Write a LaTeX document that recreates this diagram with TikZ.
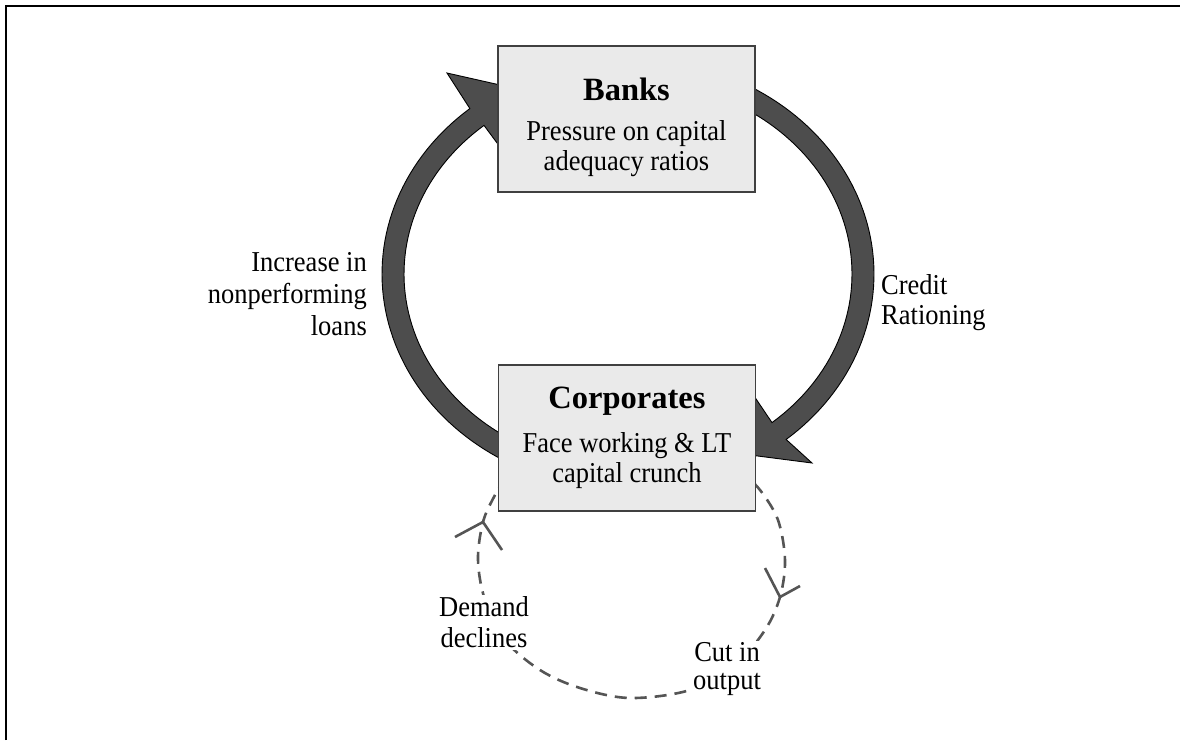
\documentclass[tikz,border=0pt]{standalone}
\usepackage{fontspec}
\setmainfont{Liberation Serif}
\newfontfamily\condfont[FakeStretch=0.92]{Liberation Serif}
\definecolor{bandgray}{HTML}{4D4D4D}
\definecolor{boxgray}{HTML}{EAEAEA}
\definecolor{dashgray}{HTML}{555555}
\begin{document}
\begin{tikzpicture}[x=1pt,y=-1pt,
  box/.style={draw=black!75, line width=1.4pt, fill=boxgray, minimum width=257pt, minimum height=146pt, inner sep=0pt},
  band/.style={fill=bandgray, draw=black, line width=0.9pt, line join=miter},
  ttl/.style={font=\fontsize{32.5}{36}\selectfont\bfseries, inner sep=0pt, anchor=base},
  body/.style={font=\condfont\fontsize{28.8}{30}\selectfont, inner sep=0pt, align=center},
  lbl/.style={font=\condfont\fontsize{28.8}{31}\selectfont, inner sep=0pt},
  loopline/.style={draw=dashgray, line width=2.6pt, dash pattern=on 12pt off 8pt},
  barb/.style={draw=dashgray, line width=2.6pt}
]
\useasboundingbox (0,0) rectangle (1180,740);
\draw[line width=2pt] (6,740) -- (6,6) -- (1180,6);

% big circular arrows
\path[band] plot[domain=240:130,samples=60] ({628+246*cos(\x)},{274-216*sin(\x)})
  -- (447,73) -- (509,87) -- (503,151)
  -- plot[domain=130:240,samples=60] ({628+224*cos(\x)},{274-194*sin(\x)}) -- cycle;
\path[band] plot[domain=60:-50,samples=60] ({628+246*cos(\x)},{274-216*sin(\x)})
  -- (812,463) -- (750,455) -- (750,390)
  -- plot[domain=-50:60,samples=60] ({628+224*cos(\x)},{274-194*sin(\x)}) -- cycle;

% dashed loop
\coordinate (rtip) at (780,597);
\coordinate (ltip) at (483,522);
\draw[loopline] plot[smooth, tension=0.55] coordinates {(740,470) (760,490) (778,520) (785,560) (780,597) (765,630) (735,665) (690,690) (630,698) (580,688) (540,670) (505,640) (485,600) (478,560) (483,522) (495,495) (510,470)};
\draw[barb] (765,568) -- (rtip) -- (800,586);
\draw[barb] (455,537) -- (ltip) -- (502,550);

% boxes
\node[box] (banks) at (626.5,119) {};
\node[box] (corp) at (627,438) {};
\node[ttl] (banksT) at (626.5,100) {Banks};
\node[body] (banksB) at (626.5,149) {Pressure on capital\\adequacy ratios};
\node[ttl] (corpT) at (627,408) {Corporates};
\node[body] (corpB) at (627,460.5) {Face working \& LT\\capital crunch};

% labels
\node[lbl, align=right, anchor=east, font=\condfont\fontsize{28.8}{32}\selectfont] (inc) at (367,294.5) {Increase in\\nonperforming\\loans};
\node[lbl, align=left, anchor=west, font=\condfont\fontsize{28.8}{30}\selectfont] (cred) at (881,303) {Credit\\Rationing};
\node[lbl, fill=white, align=center, inner sep=2pt] (dem) at (484,622.5) {Demand\\declines};
\node[lbl, fill=white, align=center, inner sep=2pt, font=\condfont\fontsize{28.8}{28}\selectfont] (cut) at (727,669.5) {Cut in\\output};
\end{tikzpicture}
\end{document}
